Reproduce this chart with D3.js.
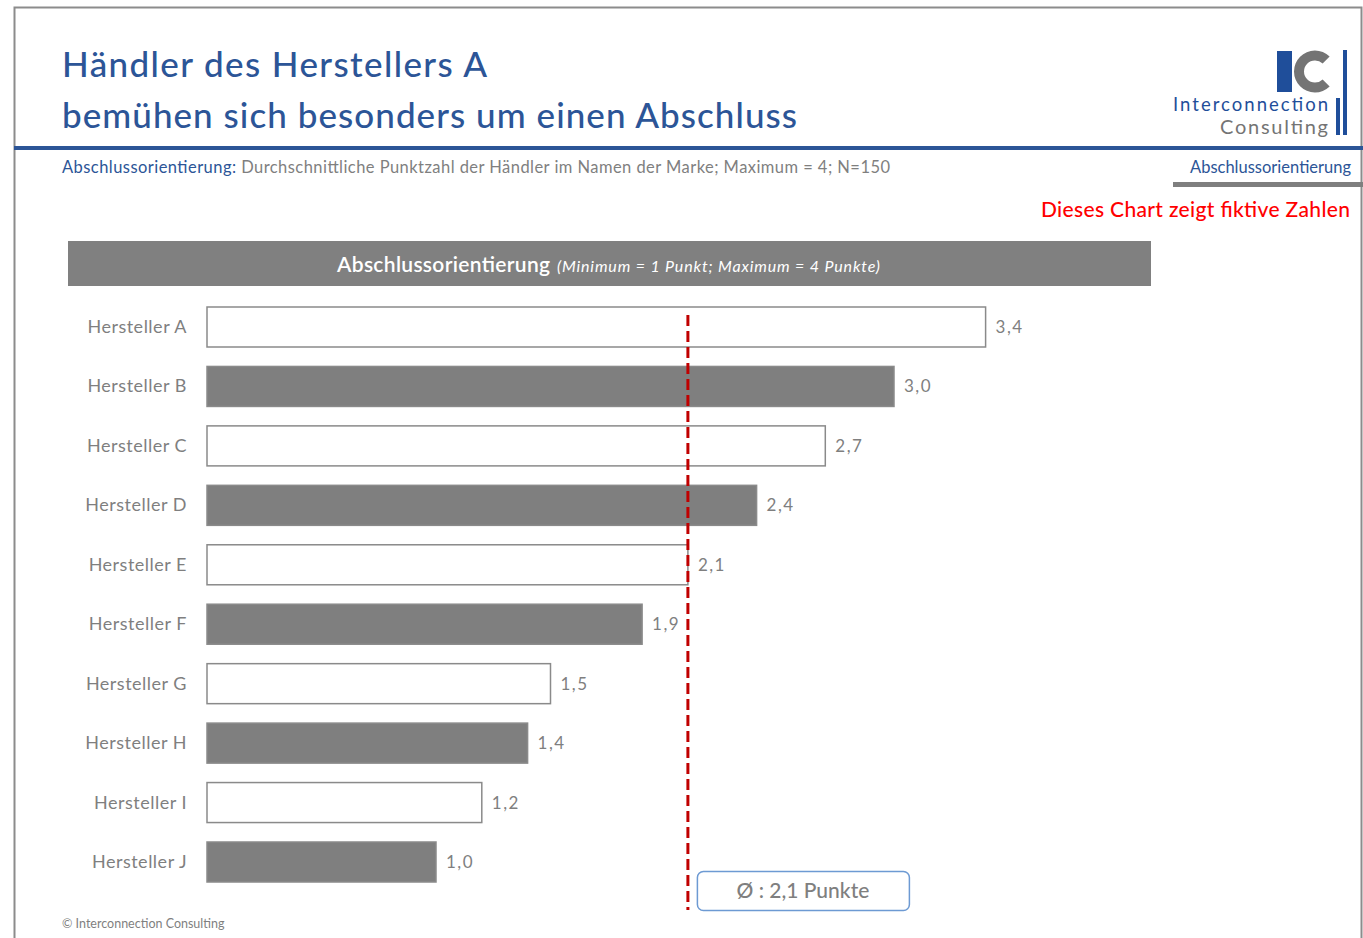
<!DOCTYPE html>
<html>
<head>
<meta charset="utf-8">
<style>
body { margin: 0; background: #fff; font-family: Lato, "Open Sans", sans-serif; }
svg { display: block; }
</style>
</head>
<body>
<div id="chart"></div>
<script src="https://d3js.org/d3.v7.min.js"></script>
<script>

// data
var categories = ["Hersteller A", "Hersteller B", "Hersteller C", "Hersteller D", "Hersteller E",
                  "Hersteller F", "Hersteller G", "Hersteller H", "Hersteller I", "Hersteller J"];
var values = [3.4, 3.0, 2.7, 2.4, 2.1, 1.9, 1.5, 1.4, 1.2, 1.0];
var average = 2.1;
var xTicks = [0, 1, 2, 3, 4];

var W = 1363, H = 938;
var blue = "#2c5597", grey = "#7f7f7f";

var svg = d3.select("#chart").append("svg")
    .attr("width", W)
    .attr("height", H);

// frame
svg.append("path")
    .attr("d", "M14.5," + H + " V7.5 H1361.5 V" + H)
    .attr("fill", "none")
    .attr("stroke", "#8c8c8c")
    .attr("stroke-width", 2);

// title
var title = svg.append("g").attr("fill", blue).attr("font-size", 35).attr("font-weight", 500);
title.append("text").attr("x", 62).attr("y", 77).attr("textLength", 425).text("Händler des Herstellers A");
title.append("text").attr("x", 62).attr("y", 128).attr("textLength", 735).text("bemühen sich besonders um einen Abschluss");

// blue rule
svg.append("rect").attr("x", 14).attr("y", 146).attr("width", W - 14).attr("height", 4).attr("fill", blue);

// subtitle
var sub = svg.append("text").attr("x", 62).attr("y", 173).attr("font-size", 16.5).attr("textLength", 828);
sub.append("tspan").attr("fill", blue).text("Abschlussorientierung: ");
sub.append("tspan").attr("fill", grey).text("Durchschnittliche  Punktzahl der Händler im Namen der Marke; Maximum = 4; N=150");

// logo (I and C drawn as shapes)
var logo = svg.append("g");
logo.append("rect").attr("x", 1277).attr("y", 51).attr("width", 15).attr("height", 41).attr("fill", "#1f4e9a");
logo.append("path")
    .attr("transform", "translate(1315,71.5)")
    .attr("d", d3.arc().innerRadius(11).outerRadius(21)
        .startAngle(Math.PI / 2 + 0.8).endAngle(Math.PI / 2 + 2 * Math.PI - 0.8)())
    .attr("fill", "#747474");
logo.append("rect").attr("x", 1343).attr("y", 50).attr("width", 4).attr("height", 85).attr("fill", "#1f4e9a");
logo.append("rect").attr("x", 1336).attr("y", 98).attr("width", 4).attr("height", 37).attr("fill", "#1f4e9a");
logo.append("text").attr("x", 1328).attr("y", 111).attr("text-anchor", "end").attr("font-size", 18.5)
    .attr("fill", "#1f4e9a").attr("textLength", 155).text("Interconnection");
logo.append("text").attr("x", 1328).attr("y", 134).attr("text-anchor", "end").attr("font-size", 20)
    .attr("fill", "#747474").attr("textLength", 108).text("Consulting");

svg.append("text").attr("x", 1351).attr("y", 173).attr("text-anchor", "end").attr("font-size", 16.5)
    .attr("fill", blue).text("Abschlussorientierung");
svg.append("rect").attr("x", 1173).attr("y", 182).attr("width", 190).attr("height", 5).attr("fill", grey);

svg.append("text").attr("x", 1350).attr("y", 217).attr("text-anchor", "end").attr("font-size", 21)
    .attr("font-weight", 500).attr("fill", "#ff0000").attr("textLength", 309).text("Dieses Chart zeigt fiktive Zahlen");

// header bar
svg.append("rect").attr("x", 68).attr("y", 241).attr("width", 1083).attr("height", 45).attr("fill", "#808080");
var hdr = svg.append("g").attr("fill", "#fff");
hdr.append("text").attr("x", 337).attr("y", 272).attr("font-size", 21).attr("font-weight", 600)
    .attr("textLength", 213).text("Abschlussorientierung");
hdr.append("text").attr("x", 557).attr("y", 272).attr("font-size", 16).attr("font-style", "italic")
    .attr("textLength", 323).text("(Minimum = 1 Punkt; Maximum = 4 Punkte)");

// scales
var x = d3.scaleLinear().domain([xTicks[0], xTicks[xTicks.length - 1]]).range([207, 207 + 4 * 229]);
var y = d3.scalePoint().domain(categories).range([327, 862]);
var barH = 40;

var rows = svg.selectAll("g.row")
    .data(categories)
  .enter().append("g")
    .attr("class", "row");

rows.append("rect")
    .attr("x", x(0))
    .attr("y", function(d) { return y(d) - barH / 2; })
    .attr("width", function(d, i) { return x(values[i]) - x(0); })
    .attr("height", barH)
    .attr("fill", function(d, i) { return i % 2 ? "#7f7f7f" : "#fff"; })
    .attr("stroke", "#8a8a8a")
    .attr("stroke-width", 1.5);

rows.append("text")
    .attr("x", 187)
    .attr("y", function(d) { return y(d) + 6; })
    .attr("text-anchor", "end")
    .attr("font-size", 18)
    .attr("letter-spacing", 0.5)
    .attr("fill", grey)
    .text(function(d) { return d; });

rows.append("text")
    .attr("x", function(d, i) { return x(values[i]) + 10; })
    .attr("y", function(d) { return y(d) + 6; })
    .attr("font-size", 17)
    .attr("letter-spacing", 1.5)
    .attr("fill", grey)
    .text(function(d, i) { return d3.format(".1f")(values[i]).replace(".", ","); });

// average line
svg.append("line")
    .attr("x1", x(average)).attr("x2", x(average))
    .attr("y1", 315).attr("y2", 910)
    .attr("stroke", "#c00000")
    .attr("stroke-width", 3)
    .attr("stroke-dasharray", "11,5");

// average label
svg.append("rect")
    .attr("x", x(average) + 9.5).attr("y", 871.5)
    .attr("width", 212).attr("height", 39)
    .attr("rx", 6)
    .attr("fill", "#fff")
    .attr("stroke", "#6d9ad3")
    .attr("stroke-width", 1.5);
svg.append("text")
    .attr("x", x(average) + 115).attr("y", 898)
    .attr("text-anchor", "middle")
    .attr("font-size", 21)
    .attr("font-weight", 500)
    .attr("fill", grey)
    .text("Ø : " + d3.format(".1f")(average).replace(".", ",") + " Punkte");

// footer
svg.append("text").attr("x", 62).attr("y", 928).attr("font-size", 12.5).attr("fill", grey)
    .text("© Interconnection Consulting");

</script>
</body>
</html>
